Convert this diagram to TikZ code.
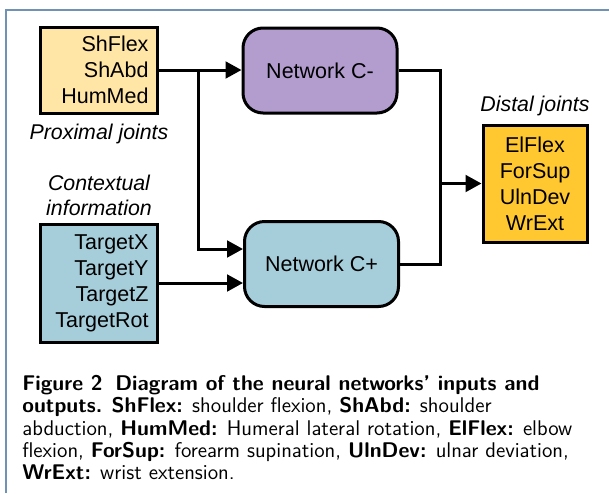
\documentclass[tikz,border=0pt]{standalone}
\usepackage{fontspec}
\usepackage{xcolor}
\usetikzlibrary{
  arrows.meta,
  positioning,
  calc
}
\newfontfamily\diagfont{Liberation Sans}
\definecolor{nnProx}{HTML}{FFE5A6}
\definecolor{nnCtx}{HTML}{A5CDDA}
\definecolor{nnMinus}{HTML}{B39DCF}
\definecolor{nnDist}{HTML}{FFC830}
\definecolor{nnFrame}{HTML}{7092B4}
\tikzset{
  nnnode/.style={
    draw, line width=1.8pt, inner sep=0pt, align=center,
    font=\diagfont\fontsize{12.9}{15.6}\selectfont
  },
  jointbox/.style={nnnode, minimum width=70.2pt, text width=59.4pt, align=right},
  outbox/.style={nnnode, minimum width=62.4pt, minimum height=70.2pt},
  netbox/.style={nnnode, rounded corners=12pt, minimum width=92.4pt, minimum height=51pt},
  tag/.style={inner sep=0pt, align=center, font=\diagfont\itshape\fontsize{12.8}{15}\selectfont},
  link/.style={-{Triangle[length=9.6pt, width=10pt]}, line width=1.8pt},
  wire/.style={line width=1.8pt},
  frameline/.style={nnFrame, line width=1.2pt},
  captext/.style={inner sep=0pt, align=left, font=\sffamily\fontsize{12.75}{13.4}\selectfont}
}
\begin{document}
\begin{tikzpicture}[x=0.6pt, y=-0.6pt]
  \useasboundingbox (0,0) rectangle (609,493);
  \draw[frameline] (6,493) -- (6,10) -- (609,10);
  % inputs
  \node[jointbox, fill=nnProx, minimum height=51.6pt] (prox) at (99,70) {ShFlex\\ShAbd\\HumMed};
  \node[tag, below=5.4pt of prox] (proxlbl) {Proximal joints};
  \node[jointbox, fill=nnCtx, minimum height=70.8pt] (ctx) at (99,283) {TargetX\\TargetY\\TargetZ\\TargetRot};
  \node[tag, above=3.6pt of ctx] (ctxlbl) {Contextual\\information};
  % networks
  \node[netbox, fill=nnMinus] (cminus) at (320,70.5) {Network C-};
  \node[netbox, fill=nnCtx] (cplus) at (321.5,264) {Network C+};
  % outputs
  \node[outbox, fill=nnDist] (dist) at (535,183.5) {ElFlex\\ForSup\\UlnDev\\WrExt};
  \node[tag, above=4.2pt of dist] (distlbl) {Distal joints};
  % connectors
  \coordinate (split) at (198,70);
  \coordinate (merge) at (440,183.5);
  \draw[link] (prox.east) -- (prox.east -| cminus.west);
  \draw[link] (split) |- ($(cplus.west)+(0,-15)$);
  \draw[link] (ctx.east) -- (ctx.east -| cplus.west);
  \draw[wire] (cminus.east) -| (merge) |- (cplus.east);
  \draw[link] (merge) -- (dist.west);
  % caption
  \node[captext, anchor=north west] (cap) at (22,375)
    {\textbf{Figure 2\hspace{0.6em}Diagram of the neural networks' inputs and}\\
     \textbf{outputs.} \textbf{ShFlex:} shoulder flexion, \textbf{ShAbd:} shoulder\\
     abduction, \textbf{HumMed:} Humeral lateral rotation, \textbf{ElFlex:} elbow\\
     flexion, \textbf{ForSup:} forearm supination, \textbf{UlnDev:} ulnar deviation,\\
     \textbf{WrExt:} wrist extension.};
\end{tikzpicture}
\end{document}
